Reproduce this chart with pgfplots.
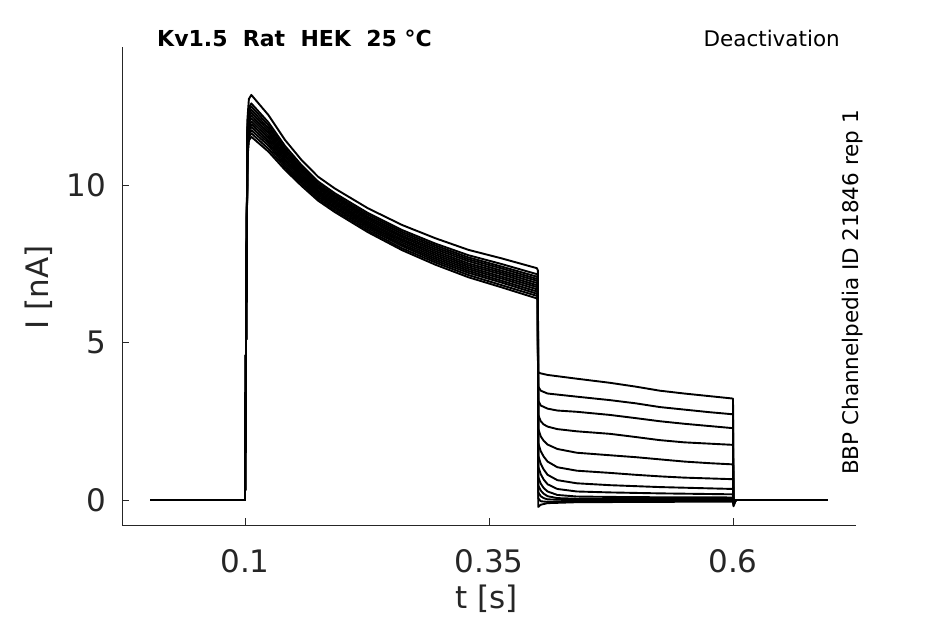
\documentclass[border=0pt]{standalone}
\usepackage{fontspec}
\setmainfont{DejaVu Sans}
\usepackage{pgfplots}
\pgfplotsset{compat=1.18}
\definecolor{axgray}{RGB}{38,38,38}
\begin{document}
\begin{tikzpicture}
\path[use as bounding box] (0,0) rectangle (945pt,624pt);
\begin{axis}[
  at={(122pt,99pt)}, anchor=south west,
  scale only axis, width=734pt, height=478pt,
  xmin=-0.026, xmax=0.726, ymin=-0.794, ymax=14.381,
  axis x line=bottom, axis y line=left,
  axis line style={-, draw=axgray, line width=0.8pt},
  tick align=inside, major tick length=7pt,
  tick style={draw=axgray, line width=0.8pt},
  xtick={0.1,0.35,0.6}, xticklabels={0.1,0.35,0.6},
  ytick={0,5,10}, yticklabels={0,5,10},
  /pgf/number format/assume math mode=true,
  tick label style={font=\fontsize{31}{31}\selectfont, text=axgray},
  xticklabel style={anchor=north, inner sep=0pt, yshift=-24pt},
  yticklabel style={anchor=east, inner sep=0pt, xshift=-16pt},
  tr/.style={black, solid, line width=1.9pt, line join=round, mark=none},
  clip=false,
]
% trace 1
\addplot[tr] coordinates {(0.003,0) (0.1,0) (0.1015,7) (0.1025,12.09) (0.104,12.73) (0.1065,12.86) (0.124,12.22) (0.141,11.43) (0.158,10.79) (0.175,10.26) (0.192,9.89) (0.226,9.26) (0.261,8.73) (0.295,8.31) (0.329,7.94) (0.363,7.67) (0.399,7.36) (0.4,7.3)
 (0.4005,4.05) (0.403,4.02) (0.41,3.97) (0.44,3.85) (0.474,3.72) (0.5,3.6) (0.525,3.47) (0.55,3.38) (0.575,3.3) (0.6,3.22) (0.6005,-0.1) (0.603,0) (0.697,0)};
% trace 2
\addplot[tr] coordinates {(0.003,0) (0.1,0) (0.1015,7) (0.1025,11.83) (0.104,12.46) (0.1065,12.59) (0.124,11.99) (0.141,11.24) (0.158,10.63) (0.175,10.11) (0.192,9.74) (0.226,9.11) (0.261,8.57) (0.295,8.14) (0.329,7.77) (0.363,7.49) (0.399,7.17) (0.4,7.12)
 (0.4005,3.6) (0.403,3.47) (0.41,3.38) (0.44,3.28) (0.474,3.17) (0.5,3.07) (0.525,2.95) (0.55,2.87) (0.575,2.79) (0.6,2.72) (0.6005,-0.1) (0.603,0) (0.697,0)};
% trace 3
\addplot[tr] coordinates {(0.003,0) (0.1,0) (0.1015,7) (0.1025,11.74) (0.104,12.37) (0.1065,12.49) (0.124,11.90) (0.141,11.16) (0.158,10.56) (0.175,10.05) (0.192,9.68) (0.226,9.05) (0.261,8.51) (0.295,8.08) (0.329,7.70) (0.363,7.41) (0.399,7.09) (0.4,7.04)
 (0.4005,3.15) (0.403,3.0) (0.41,2.9) (0.42,2.84) (0.44,2.8) (0.474,2.7) (0.5,2.6) (0.525,2.5) (0.55,2.42) (0.575,2.35) (0.6,2.28) (0.6005,-0.1) (0.603,0) (0.697,0)};
% trace 4
\addplot[tr] coordinates {(0.003,0) (0.1,0) (0.1015,7) (0.1025,11.65) (0.104,12.27) (0.1065,12.39) (0.124,11.81) (0.141,11.10) (0.158,10.50) (0.175,9.99) (0.192,9.63) (0.226,8.99) (0.261,8.45) (0.295,8.02) (0.329,7.64) (0.363,7.35) (0.399,7.02) (0.4,6.97)
 (0.4005,2.7) (0.403,2.5) (0.406,2.4) (0.41,2.33) (0.42,2.25) (0.44,2.18) (0.474,2.1) (0.5,2.0) (0.525,1.9) (0.55,1.83) (0.575,1.79) (0.6,1.75) (0.6005,-0.1) (0.603,0) (0.697,0)};
% trace 5
\addplot[tr] coordinates {(0.003,0) (0.1,0) (0.1015,7) (0.1025,11.56) (0.104,12.18) (0.1065,12.30) (0.124,11.73) (0.141,11.03) (0.158,10.45) (0.175,9.94) (0.192,9.58) (0.226,8.94) (0.261,8.39) (0.295,7.96) (0.329,7.58) (0.363,7.28) (0.399,6.96) (0.4,6.91)
 (0.4005,2.25) (0.403,2.02) (0.406,1.88) (0.41,1.76) (0.42,1.62) (0.44,1.5) (0.474,1.42) (0.5,1.36) (0.525,1.29) (0.55,1.22) (0.575,1.17) (0.6,1.13) (0.6005,-0.1) (0.603,0) (0.697,0)};
% trace 6
\addplot[tr] coordinates {(0.003,0) (0.1,0) (0.1015,7) (0.1025,11.48) (0.104,12.09) (0.1065,12.21) (0.124,11.65) (0.141,10.96) (0.158,10.39) (0.175,9.89) (0.192,9.52) (0.226,8.89) (0.261,8.34) (0.295,7.90) (0.329,7.51) (0.363,7.22) (0.399,6.89) (0.4,6.84)
 (0.4005,1.8) (0.403,1.55) (0.406,1.38) (0.41,1.22) (0.42,1.04) (0.44,0.93) (0.474,0.86) (0.5,0.8) (0.525,0.75) (0.55,0.71) (0.6,0.66) (0.6005,-0.1) (0.603,0) (0.697,0)};
% trace 7
\addplot[tr] coordinates {(0.003,0) (0.1,0) (0.1015,7) (0.1025,11.39) (0.104,12.0) (0.1065,12.12) (0.124,11.57) (0.141,10.90) (0.158,10.33) (0.175,9.83) (0.192,9.47) (0.226,8.83) (0.261,8.28) (0.295,7.84) (0.329,7.45) (0.363,7.16) (0.399,6.82) (0.4,6.77)
 (0.4005,1.4) (0.403,1.15) (0.406,0.97) (0.41,0.8) (0.42,0.63) (0.44,0.53) (0.474,0.47) (0.525,0.41) (0.6,0.35) (0.6005,-0.1) (0.603,0) (0.697,0)};
% trace 8
\addplot[tr] coordinates {(0.003,0) (0.1,0) (0.1015,7) (0.1025,11.30) (0.104,11.90) (0.1065,12.02) (0.124,11.49) (0.141,10.83) (0.158,10.27) (0.175,9.78) (0.192,9.42) (0.226,8.78) (0.261,8.23) (0.295,7.78) (0.329,7.39) (0.363,7.09) (0.399,6.76) (0.4,6.71)
 (0.4005,1.05) (0.403,0.82) (0.406,0.65) (0.41,0.5) (0.42,0.35) (0.44,0.27) (0.474,0.24) (0.525,0.21) (0.6,0.18) (0.6005,-0.1) (0.603,0) (0.697,0)};
% trace 9
\addplot[tr] coordinates {(0.003,0) (0.1,0) (0.1015,7) (0.1025,11.21) (0.104,11.81) (0.1065,11.93) (0.124,11.41) (0.141,10.77) (0.158,10.22) (0.175,9.73) (0.192,9.37) (0.226,8.73) (0.261,8.17) (0.295,7.72) (0.329,7.33) (0.363,7.03) (0.399,6.69) (0.4,6.64)
 (0.4005,0.72) (0.403,0.52) (0.406,0.38) (0.41,0.27) (0.42,0.16) (0.44,0.11) (0.5,0.09) (0.6,0.08) (0.6005,-0.1) (0.603,0) (0.697,0)};
% trace 10
\addplot[tr] coordinates {(0.003,0) (0.1,0) (0.1015,7) (0.1025,11.13) (0.104,11.72) (0.1065,11.84) (0.124,11.33) (0.141,10.70) (0.158,10.16) (0.175,9.68) (0.192,9.31) (0.226,8.68) (0.261,8.11) (0.295,7.66) (0.329,7.27) (0.363,6.96) (0.399,6.62) (0.4,6.57)
 (0.4005,0.46) (0.403,0.3) (0.406,0.2) (0.41,0.12) (0.42,0.06) (0.44,0.04) (0.6,0.03) (0.6005,-0.1) (0.603,0) (0.697,0)};
% trace 11
\addplot[tr] coordinates {(0.003,0) (0.1,0) (0.1015,7) (0.1025,11.04) (0.104,11.62) (0.1065,11.74) (0.124,11.25) (0.141,10.63) (0.158,10.10) (0.175,9.62) (0.192,9.26) (0.226,8.62) (0.261,8.06) (0.295,7.60) (0.329,7.21) (0.363,6.90) (0.399,6.55) (0.4,6.5)
 (0.4005,0.24) (0.403,0.12) (0.406,0.06) (0.41,0.02) (0.43,0.0) (0.6,0.0) (0.6005,-0.12) (0.603,0) (0.697,0)};
% trace 12
\addplot[tr] coordinates {(0.003,0) (0.1,0) (0.1015,7) (0.1025,10.94) (0.104,11.52) (0.1065,11.64) (0.124,11.15) (0.141,10.56) (0.158,10.04) (0.175,9.56) (0.192,9.20) (0.226,8.56) (0.261,7.99) (0.295,7.54) (0.329,7.14) (0.363,6.82) (0.399,6.48) (0.4,6.43)
 (0.4005,0.05) (0.403,-0.04) (0.41,-0.06) (0.44,-0.04) (0.6,-0.02) (0.6005,-0.15) (0.603,0) (0.697,0)};
% trace 13
\addplot[tr] coordinates {(0.003,0) (0.1,0) (0.1015,7) (0.1025,10.84) (0.104,11.41) (0.1065,11.53) (0.124,11.06) (0.141,10.48) (0.158,9.97) (0.175,9.50) (0.192,9.14) (0.226,8.50) (0.261,7.93) (0.295,7.47) (0.329,7.07) (0.363,6.75) (0.399,6.40) (0.4,6.35)
 (0.4005,-0.22) (0.403,-0.15) (0.41,-0.1) (0.44,-0.07) (0.6,-0.05) (0.6005,-0.2) (0.603,0) (0.697,0)};
\end{axis}
\node[anchor=center, inner sep=0pt, rotate=90, font=\fontsize{31}{31}\selectfont, text=axgray] at (39pt,336.5pt) {I [nA]};
\node[anchor=center, inner sep=0pt, font=\fontsize{31}{31}\selectfont, text=axgray] at (486.7pt,25pt) {t [s]};
\node[anchor=base west, inner sep=0pt, font=\bfseries\fontsize{22}{22}\selectfont] at (157pt,577.3pt) {Kv1.5\ \ Rat\ \ HEK\ \ 25 °C};
\node[anchor=base east, inner sep=0pt, font=\fontsize{21.5}{21.5}\selectfont] at (840pt,577.3pt) {Deactivation};
\node[anchor=center, inner sep=0pt, rotate=90, font=\fontsize{21.5}{21.5}\selectfont] at (852.5pt,331.5pt) {BBP Channelpedia ID 21846 rep 1};
\end{tikzpicture}
\end{document}
